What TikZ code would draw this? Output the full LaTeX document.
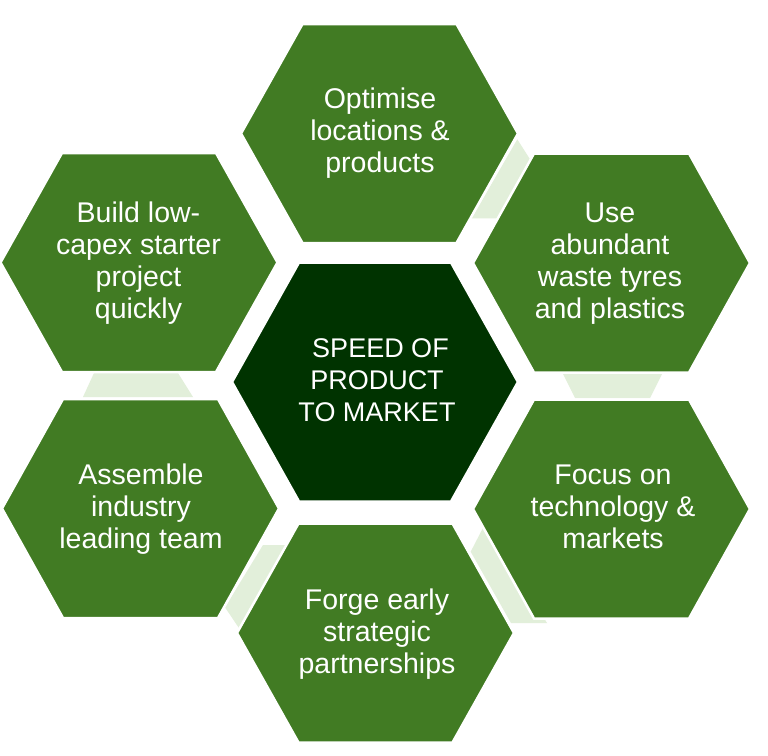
\documentclass[tikz,border=0pt]{standalone}
\usepackage{fontspec}
\setmainfont{Liberation Sans}
\definecolor{hexgreen}{RGB}{65,123,35}
\definecolor{hexdark}{RGB}{0,51,0}
\definecolor{hexlight}{RGB}{226,239,218}
% #1,#2 centre; #3 half width; #4 half height; #5 half top edge; #6 style
\newcommand{\drawhexa}[6]{%
  \path[#6] ({#1-#3},{#2}) -- ({#1-#5},{#2-#4}) -- ({#1+#5},{#2-#4})
    -- ({#1+#3},{#2}) -- ({#1+#5},{#2+#4}) -- ({#1-#5},{#2+#4}) -- cycle;}
\tikzset{
  outerhex/.style={fill=hexgreen, draw=white, line width=2.5pt, line join=miter},
  centrehex/.style={fill=hexdark, draw=white, line width=2.5pt, line join=miter},
  linkstrip/.style={fill=hexlight},
  lbl/.style={text=white, align=center, inner sep=0pt,
    font=\fontsize{28.5}{32}\selectfont},
  centrelbl/.style={text=white, align=center, inner sep=0pt,
    font=\fontsize{27}{32}\selectfont}
}
\begin{document}
\begin{tikzpicture}[x=1pt,y=-1pt]
\useasboundingbox[fill=white] (0,0) rectangle (768,755);
% light link strips in the gaps
\path[linkstrip] (517.3,139.3) -- (537,170.3) -- (505,218.3) -- (471.7,218.3) -- cycle;
\path[linkstrip] (563,374) -- (662,374) -- (650,398) -- (575,398) -- cycle;
\path[linkstrip] (470.7,551.7) -- (486,522) -- (547,623) -- (511,623) -- cycle;
\path[linkstrip] (263,545) -- (295,545) -- (245,637) -- (225,607.3) -- cycle;
\path[linkstrip] (94,373) -- (178,373) -- (193,397) -- (83,397) -- cycle;
% hexagons
\drawhexa{379.5}{133.5}{138.5}{109.5}{77}{outerhex}
\drawhexa{611.5}{263}{138.5}{109.5}{77.5}{outerhex}
\drawhexa{611.5}{509}{138.5}{109.5}{77.5}{outerhex}
\drawhexa{375.5}{633}{138.5}{109.5}{77}{outerhex}
\drawhexa{140.5}{508.5}{138.5}{109.5}{77.5}{outerhex}
\drawhexa{139}{262.5}{138.5}{109.5}{77}{outerhex}
\drawhexa{375}{382}{143}{119.5}{76}{centrehex}
% labels
\node[lbl] (opt) at (380,133.3) {Optimise\\locations \&\\products};
\node[lbl] (use) at (610,263.2) {Use\\abundant\\waste tyres\\and plastics};
\node[lbl] (foc) at (613,507) {Focus on\\technology \&\\markets};
\node[lbl] (forg) at (377,634.3) {Forge early\\strategic\\partnerships};
\node[lbl] (ass) at (141,509.5) {Assemble\\industry\\leading team};
\node[lbl] (bld) at (138.5,263) {Build low-\\capex starter\\project\\quickly};
\node[centrelbl] (ctr) at (377,380.4) {\kern7pt SPEED OF\\PRODUCT\\TO MARKET};
\end{tikzpicture}
\end{document}
